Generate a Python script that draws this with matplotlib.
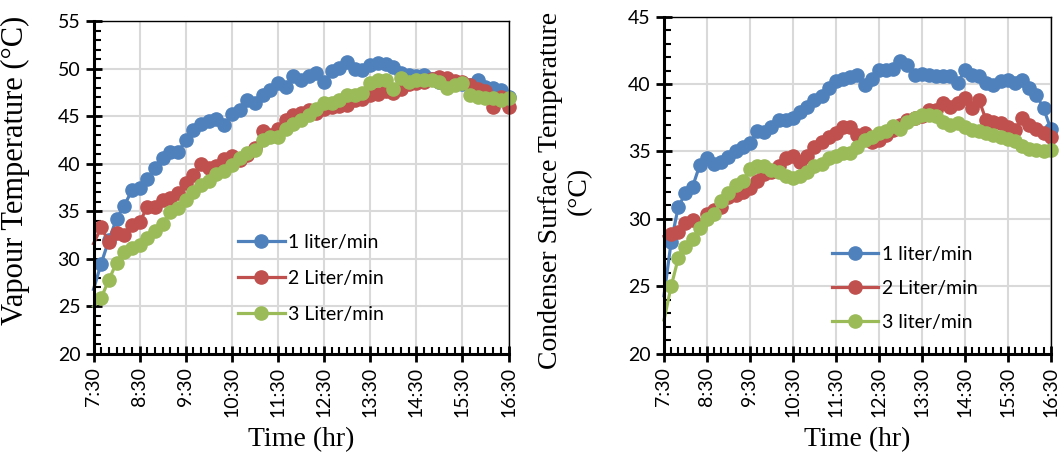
import matplotlib
matplotlib.use("Agg")
import matplotlib.pyplot as plt
from matplotlib.ticker import FixedLocator, MultipleLocator

# Readings every 10 minutes from 7:30 to 16:30
hour_labels = ["7:30", "8:30", "9:30", "10:30", "11:30", "12:30",
               "13:30", "14:30", "15:30", "16:30"]
steps_per_hour = 6

# Vapour temperature (deg C)
vapour_1lpm = [26.8, 29.5, 32.0, 34.2, 35.6, 37.2, 37.4, 38.4, 39.5, 40.6,
               41.2, 41.2, 42.5, 43.5, 44.2, 44.5, 44.7, 44.1, 45.2, 45.6,
               46.7, 46.35, 47.2, 47.8, 48.45, 48.1, 49.2, 48.8, 49.2, 49.5,
               48.6, 49.7, 50.05, 50.7, 50.0, 49.85, 50.4, 50.6, 50.5, 50.2,
               49.5, 49.3, 49.2, 49.3, 48.95, 48.6, 48.25, 48.6, 48.4, 48.25,
               48.8, 48.1, 48.0, 47.7, 47.0]
vapour_2lpm = [31.6, 33.3, 31.8, 32.7, 32.5, 33.6, 33.9, 35.4, 35.4, 36.2,
               36.4, 36.9, 38.0, 38.8, 40.0, 39.5, 39.8, 40.45, 40.8, 40.4,
               40.9, 41.7, 43.4, 43.0, 43.7, 44.6, 45.1, 45.3, 45.65, 45.3,
               45.8, 46.0, 46.05, 46.2, 46.7, 46.75, 47.2, 47.3, 47.6, 47.4,
               47.9, 48.4, 48.5, 48.6, 48.9, 49.1, 49.0, 48.7, 48.6, 48.25,
               47.9, 47.6, 46.0, 47.0, 46.0]
vapour_3lpm = [25.0, 25.9, 27.8, 29.6, 30.7, 31.1, 31.45, 32.15, 32.9, 33.7,
               34.95, 35.3, 36.2, 37.05, 37.75, 38.2, 38.9, 39.2, 39.9, 40.6,
               41.1, 41.4, 42.5, 42.8, 42.8, 43.7, 44.2, 44.6, 45.1, 45.8,
               46.35, 46.35, 46.7, 47.2, 47.2, 47.4, 48.45, 48.8, 48.8, 47.9,
               49.0, 48.6, 48.8, 48.8, 48.8, 48.6, 48.0, 48.3, 48.45, 47.2,
               47.05, 46.9, 46.9, 46.7, 46.9]

# Condenser surface temperature (deg C)
cond_1lpm = [24.3, 28.3, 30.9, 31.9, 32.4, 34.0, 34.5, 34.1, 34.25, 34.6,
             35.05, 35.3, 35.6, 36.5, 36.45, 36.8, 37.3, 37.3, 37.45, 37.95,
             38.3, 38.8, 39.1, 39.7, 40.2, 40.35, 40.5, 40.7, 39.9, 40.4,
             41.05, 41.05, 41.1, 41.7, 41.4, 40.7, 40.75, 40.7, 40.6, 40.6,
             40.6, 40.05, 41.05, 40.7, 40.6, 40.05, 39.9, 40.2, 40.3, 40.05,
             40.3, 39.7, 39.2, 38.2, 36.7]
cond_2lpm = [28.7, 28.9, 29.05, 29.7, 29.9, 29.55, 30.4, 30.65, 30.9, 31.65,
             31.8, 32.0, 32.3, 32.8, 33.3, 33.5, 33.9, 34.5, 34.7, 34.25,
             34.7, 35.35, 35.7, 36.1, 36.35, 36.85, 36.85, 36.2, 36.35, 35.7,
             35.85, 36.2, 36.6, 36.95, 37.3, 37.5, 37.6, 38.1, 38.1, 38.6,
             38.3, 38.6, 38.95, 38.2, 38.8, 37.3, 37.2, 37.1, 36.85, 36.6,
             37.45, 36.95, 36.7, 36.35, 36.1]
cond_3lpm = [22.5, 25.0, 27.1, 27.9, 28.5, 29.3, 30.0, 30.4, 31.3, 31.9,
             32.5, 32.8, 33.7, 33.9, 33.9, 33.6, 33.5, 33.2, 33.0, 33.2,
             33.5, 33.9, 34.1, 34.5, 34.7, 34.9, 34.9, 35.35, 35.85, 36.1,
             36.35, 36.5, 36.9, 36.7, 37.2, 37.45, 37.7, 37.7, 37.6, 37.2,
             36.95, 37.15, 36.85, 36.6, 36.5, 36.35, 36.2, 36.1, 35.95, 35.75,
             35.4, 35.2, 35.1, 35.0, 35.1]

left_labels = ["1 liter/min", "2 Liter/min", "3 Liter/min"]
right_labels = ["1 liter/min", "2 Liter/min", "3 liter/min"]

colors = ["#4F81BD", "#C0504D", "#9BBB59"]
tick_font = "Lato"
label_font = "Liberation Serif"

fig = plt.figure(figsize=(10.6, 4.55), dpi=100)
W, H = 1060, 455


def px_axes(x0, y0, x1, y1):
    return fig.add_axes([x0 / W, 1 - y1 / H, (x1 - x0) / W, (y1 - y0) / H])


def style_axes(ax, ymin, ymax):
    n = len(vapour_1lpm)
    ax.set_xlim(0, n - 1)
    ax.set_ylim(ymin, ymax)
    ax.xaxis.set_major_locator(FixedLocator(range(0, n, steps_per_hour)))
    ax.xaxis.set_minor_locator(MultipleLocator(1))
    ax.set_xticklabels(hour_labels, rotation=90, fontfamily=tick_font, fontsize=14)
    ax.yaxis.set_major_locator(MultipleLocator(5))
    ax.yaxis.set_minor_locator(MultipleLocator(1))
    for lab in ax.get_yticklabels():
        lab.set_fontfamily(tick_font)
        lab.set_fontsize(14)
    ax.grid(True, which="major", color="#D9D9D9", linewidth=1.5)
    ax.set_axisbelow(True)
    ax.tick_params(which="major", direction="inout", length=11, width=2, pad=4)
    ax.tick_params(which="minor", direction="in", length=5, width=1.5)
    for side in ("left", "bottom"):
        ax.spines[side].set_linewidth(2.2)
    for side in ("top", "right"):
        ax.spines[side].set_linewidth(1.0)
    ax.set_xlabel("Time (hr)", fontfamily=label_font, fontsize=20, labelpad=7)


def draw_series(ax, series, labels):
    x = list(range(len(series[0])))
    for ys, c, lab in zip(series, colors, labels):
        ax.plot(x, ys, color=c, linewidth=2.3, marker="o", markersize=9.5,
                markevery=range(1, len(ys)), label=lab, clip_on=False)


ax1 = px_axes(93.5, 21, 508.5, 354)
draw_series(ax1, [vapour_1lpm, vapour_2lpm, vapour_3lpm], left_labels)
style_axes(ax1, 20, 55)
ax1.set_ylabel("Vapour Temperature (°C)", fontfamily=label_font, fontsize=22)
ax1.yaxis.set_label_coords(-0.152, 0.55)
ax1.legend(loc="center left", bbox_to_anchor=(0.348, 0.228), frameon=False,
           prop={"family": tick_font, "size": 14}, handlelength=2.4,
           handletextpad=0.2, labelspacing=0.98, borderaxespad=0, borderpad=0)

ax2 = px_axes(664, 16.7, 1050.7, 353.7)
draw_series(ax2, [cond_1lpm, cond_2lpm, cond_3lpm], right_labels)
style_axes(ax2, 20, 45)
ax2.set_ylabel("Condenser Surface Temperature\n(°C)", fontfamily=label_font,
               fontsize=20, linespacing=1.2)
ax2.yaxis.set_label_coords(-0.186, 0.483)
ax2.legend(loc="center left", bbox_to_anchor=(0.434, 0.194), frameon=False,
           prop={"family": tick_font, "size": 14}, handlelength=2.4,
           handletextpad=0.2, labelspacing=0.88, borderaxespad=0, borderpad=0)

fig.savefig("out.png", dpi=100)
